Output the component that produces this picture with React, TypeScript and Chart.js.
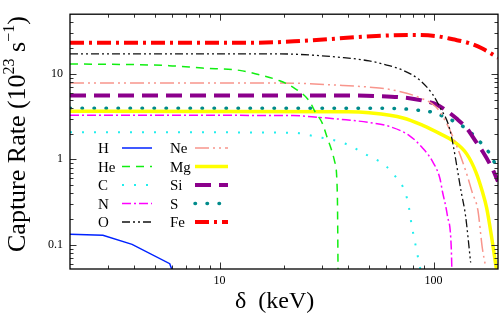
import React, { useEffect, useRef } from "react";
import { Chart, registerables } from "chart.js";
Chart.register(...registerables);

// ---- data ----
const hX = [2, 2.85, 3.9, 5.85, 6.1];
const hY = [0.133, 0.129, 0.101, 0.06, 0.045];
const heX = [2, 5.8, 8.3, 12.4, 16.3, 19.1, 22, 26.3, 27.8, 30.3, 31.6, 34.5, 35.5, 35.8];
const heY = [13.1, 12.5, 11.7, 11.0, 9.4, 8.3, 7.0, 4.8, 3.7, 2.6, 1.9, 0.94, 0.4, 0.04];
const cX = [2, 22, 28, 38, 48, 60, 67, 72, 76, 79, 83, 87];
const cY = [2.08, 2.05, 1.85, 1.55, 1.15, 0.83, 0.61, 0.47, 0.31, 0.17, 0.09, 0.05];
const nX = [2, 22, 29, 39, 50, 62, 77, 89, 99, 107, 110, 116, 121, 122];
const nY = [3.29, 3.25, 3.1, 2.9, 2.7, 2.43, 1.9, 1.35, 0.94, 0.6, 0.42, 0.22, 0.09, 0.04];
const oX = [2, 18, 38, 50, 62, 72, 86, 99, 107, 119, 135, 141, 149];
const oY = [17.2, 17.2, 15.5, 14.2, 12.5, 11.0, 8.5, 5.75, 4.07, 2.25, 0.4, 0.22, 0.062];
const neX = [2, 18.5, 37.6, 50, 64, 86, 103, 115, 128, 143, 152, 161, 169, 175];
const neY = [7.84, 7.84, 7.33, 7.0, 6.5, 5.27, 4.07, 2.64, 1.45, 0.67, 0.4, 0.256, 0.091, 0.056];
const mgX = [2, 40, 50, 72, 89, 107, 123, 143, 158, 169, 177, 187, 197];
const mgY = [3.65, 3.6, 3.5, 3.05, 2.5, 2.0, 1.65, 1.15, 0.7, 0.42, 0.27, 0.12, 0.05];
const siX = [2, 38, 55, 77, 93, 103, 115, 128, 143, 158, 169, 189, 200];
const siY = [5.6, 5.6, 5.5, 5.19, 4.75, 4.4, 3.7, 3.0, 2.3, 1.6, 1.25, 0.76, 0.55];
const sX = [2, 60, 77, 86, 99, 112, 128, 144, 158, 173, 187, 200];
const sY = [3.97, 3.95, 3.85, 3.74, 3.55, 3.15, 2.69, 2.23, 1.79, 1.39, 1.07, 0.72];
const feX = [2, 15, 24, 54, 80, 103, 123, 147, 169, 200];
const feY = [23.2, 23.2, 24.3, 27.8, 28.6, 27.7, 25.4, 22.9, 19.8, 15.5];

const xMajorTicks = [10, 100];
const xMinorTicks = [3, 4, 5, 6, 7, 8, 9, 20, 30, 40, 50, 60, 70, 80, 90];
const yMajorTicks = [0.1, 1, 10];
const yMinorTicks = [0.06, 0.07, 0.08, 0.09, 0.2, 0.3, 0.4, 0.5, 0.6, 0.7, 0.8, 0.9, 2, 3, 4, 5, 6, 7, 8, 9, 20, 30, 40];
const xTickLabels = ["10", "100"];
const yTickLabels = ["0.1", "1", "10"];

const SERIF = "'Liberation Serif', 'Times New Roman', serif";

const pts = (xs: number[], ys: number[]) => xs.map((x, i) => ({ x, y: ys[i] }));

type Style = { label: string; xs: number[]; ys: number[]; color: string; width: number; dash: number[]; cap?: CanvasLineCap; tension?: boolean };
const series: Style[] = [
  { label: "H", xs: hX, ys: hY, color: "#0022ff", width: 1.5, dash: [], tension: false },
  { label: "He", xs: heX, ys: heY, color: "#11ee11", width: 1.5, dash: [8, 6] },
  { label: "C", xs: cX, ys: cY, color: "#22eeee", width: 2, dash: [2, 10] },
  { label: "N", xs: nX, ys: nY, color: "#ff00ff", width: 1.5, dash: [9, 3, 2, 3] },
  { label: "O", xs: oX, ys: oY, color: "#111111", width: 1.3, dash: [8, 3, 2, 3, 2, 3] },
  { label: "Ne", xs: neX, ys: neY, color: "#f8958c", width: 1.5, dash: [14, 4, 2, 4, 2, 4] },
  { label: "Mg", xs: mgX, ys: mgY, color: "#ffff00", width: 3.5, dash: [] },
  { label: "Si", xs: siX, ys: siY, color: "#8b008b", width: 4, dash: [16, 8] },
  { label: "S", xs: sX, ys: sY, color: "#008b8b", width: 3.5, dash: [0.5, 11.5], cap: "round" },
  { label: "Fe", xs: feX, ys: feY, color: "#ff0000", width: 4, dash: [14, 5, 3, 5] },
];

const decorPlugin = {
  id: "decor",
  afterDraw(chart: any) {
    const { ctx, chartArea: a, scales } = chart;
    const sx = scales.x, sy = scales.y;
    ctx.save();
    const seg = (x1: number, y1: number, x2: number, y2: number) => {
      ctx.beginPath(); ctx.moveTo(x1, y1); ctx.lineTo(x2, y2); ctx.stroke();
    };
    ctx.strokeStyle = "#333"; ctx.lineWidth = 1; ctx.setLineDash([]);
    const xt = (vals: number[], len: number) => vals.forEach((v) => {
      const p = Math.round(sx.getPixelForValue(v)) + 0.5;
      seg(p, a.bottom, p, a.bottom - len); seg(p, a.top, p, a.top + len);
    });
    const yt = (vals: number[], len: number) => vals.forEach((v) => {
      const p = Math.round(sy.getPixelForValue(v)) + 0.5;
      seg(a.left, p, a.left + len, p); seg(a.right, p, a.right - len, p);
    });
    xt(xMinorTicks, 3.5); xt(xMajorTicks, 6.5); yt(yMinorTicks, 3.5); yt(yMajorTicks, 6.5);
    ctx.strokeStyle = "#000"; ctx.lineWidth = 1.3;
    ctx.strokeRect(a.left, a.top, a.right - a.left, a.bottom - a.top);

    // legend
    const ds = chart.data.datasets;
    const rowY = [148, 166.5, 185, 203.5, 222];
    ctx.font = `15px ${SERIF}`; ctx.fillStyle = "#000"; ctx.textBaseline = "alphabetic"; ctx.textAlign = "left";
    ds.forEach((d: any, i: number) => {
      const col = i < 5 ? 0 : 1;
      const y = rowY[i % 5];
      const tx = col === 0 ? 98 : 170;
      const l0 = col === 0 ? 122 : 195, l1 = col === 0 ? 152 : 228;
      ctx.fillStyle = "#000";
      ctx.fillText(d.label, tx, y + 5);
      ctx.strokeStyle = d.borderColor; ctx.lineWidth = d.borderWidth;
      ctx.setLineDash(d.borderDash || []); ctx.lineCap = d.borderCapStyle || "butt";
      seg(l0, y, l1, y);
      ctx.setLineDash([]); ctx.lineCap = "butt";
    });

    // axis titles
    ctx.fillStyle = "#000";
    ctx.font = `24px ${SERIF}`;
    ctx.fillText("δ  (keV)", 235, 308);

    ctx.save();
    ctx.translate(25, 252);
    ctx.rotate(-Math.PI / 2);
    const big = `26px ${SERIF}`, sup = `16px ${SERIF}`;
    let x = 0;
    const put = (t: string, f: string, dy: number) => { ctx.font = f; ctx.fillText(t, x, dy); x += ctx.measureText(t).width; };
    put("Capture Rate (10", big, 0);
    put("23", sup, -11);
    put(" s", big, 0);
    put("−1", sup, -11);
    put(")", big, 0);
    ctx.restore();
    ctx.restore();
  },
};

export default function App() {
  const ref = useRef<HTMLCanvasElement>(null);
  useEffect(() => {
    const chart = new Chart(ref.current as HTMLCanvasElement, {
      type: "line",
      data: {
        datasets: series.map((s) => ({
          label: s.label,
          data: pts(s.xs, s.ys),
          borderColor: s.color,
          backgroundColor: s.color,
          borderWidth: s.width,
          borderDash: s.dash,
          borderCapStyle: s.cap || "butt",
          pointRadius: 0,
          fill: false,
          cubicInterpolationMode: s.tension === false ? "default" : "monotone",
          tension: 0,
          clip: 0,
        })) as any,
      },
      options: {
        animation: false,
        responsive: false,
        events: [],
        layout: { padding: { top: 3, right: 4, left: 0, bottom: 0 } },
        plugins: { legend: { display: false }, tooltip: { enabled: false }, title: { display: false } },
        scales: {
          x: {
            type: "logarithmic",
            min: 2,
            max: 200,
            bounds: "data",
            grid: { display: false, drawTicks: false },
            border: { display: false },
            afterBuildTicks: (s: any) => { s.ticks = xMajorTicks.map((v) => ({ value: v })); },
            afterFit: (s: any) => { s.height = 47; },
            ticks: {
              autoSkip: false, maxRotation: 0, padding: 5, color: "#000",
              font: { family: SERIF, size: 12 },
              callback: (v: any) => { const i = xMajorTicks.indexOf(Number(v)); return i >= 0 ? xTickLabels[i] : ""; },
            },
          },
          y: {
            type: "logarithmic",
            min: 0.052,
            max: 50,
            bounds: "data",
            grid: { display: false, drawTicks: false },
            border: { display: false },
            afterBuildTicks: (s: any) => { s.ticks = yMajorTicks.map((v) => ({ value: v })); },
            afterFit: (s: any) => { s.width = 70; },
            ticks: {
              autoSkip: false, padding: 7, color: "#000",
              font: { family: SERIF, size: 12 },
              callback: (v: any) => { const i = yMajorTicks.indexOf(Number(v)); return i >= 0 ? yTickLabels[i] : ""; },
            },
          },
        },
      } as any,
      plugins: [decorPlugin],
    });
    return () => chart.destroy();
  }, []);
  return (
    <div style={{ position: "absolute", left: 0, top: 0, width: 502, height: 316, background: "#fff" }}>
      <canvas ref={ref} width={502} height={316} style={{ display: "block" }} />
    </div>
  );
}
